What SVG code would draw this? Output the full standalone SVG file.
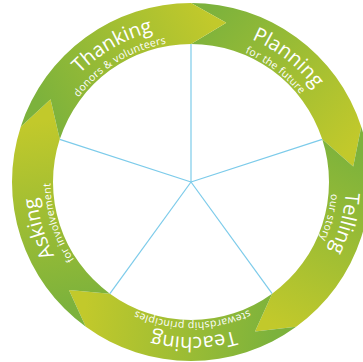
<svg xmlns="http://www.w3.org/2000/svg" width="363" height="362" viewBox="0 0 363 362">
<style>
.main{font-family:"Open Sans","Noto Sans",sans-serif;font-size:20px;fill:#fff;text-anchor:middle}
.sub{font-family:"Open Sans","Noto Sans",sans-serif;font-size:10.5px;fill:#fff;text-anchor:middle;letter-spacing:0.3px}
.spoke{stroke:#7ccbea;stroke-width:1.2;fill:none}
</style>
<defs>
<path id="pm" d="M99.89,307.40 A155,155 0 1 1 282.11,56.60 A155,155 0 1 1 99.89,307.40"/>
<path id="ps" d="M108.71,295.26 A140,140 0 1 1 273.29,68.74 A140,140 0 1 1 108.71,295.26"/>
<linearGradient id="gP" gradientUnits="userSpaceOnUse" x1="205" y1="15" x2="350" y2="150"><stop offset="0" stop-color="#7cb23c"/><stop offset="1" stop-color="#c2c92b"/></linearGradient>
<linearGradient id="gTe" gradientUnits="userSpaceOnUse" x1="355" y1="150" x2="265" y2="320"><stop offset="0" stop-color="#7cb23c"/><stop offset="1" stop-color="#c2c92b"/></linearGradient>
<linearGradient id="gTc" gradientUnits="userSpaceOnUse" x1="275" y1="325" x2="85" y2="305"><stop offset="0" stop-color="#7cb23c"/><stop offset="1" stop-color="#c2c92b"/></linearGradient>
<linearGradient id="gA" gradientUnits="userSpaceOnUse" x1="75" y1="305" x2="45" y2="120"><stop offset="0" stop-color="#7cb23c"/><stop offset="1" stop-color="#c2c92b"/></linearGradient>
<linearGradient id="gTh" gradientUnits="userSpaceOnUse" x1="45" y1="115" x2="215" y2="25"><stop offset="0" stop-color="#7cb23c"/><stop offset="1" stop-color="#c2c92b"/></linearGradient>
</defs>
<rect width="363" height="362" fill="#fff"/>
<g id="connectors">
<line class="spoke" x1="191" y1="182" x2="191" y2="44"/>
<line class="spoke" x1="191" y1="182" x2="322.25" y2="139.36"/>
<line class="spoke" x1="191" y1="182" x2="272.11" y2="293.64"/>
<line class="spoke" x1="191" y1="182" x2="109.89" y2="293.64"/>
<line class="spoke" x1="191" y1="182" x2="59.75" y2="139.36"/>
</g>
<g id="planning">
<path fill="url(#gP)" d="M191,3 A179,179 0 0 1 361.24,126.69 L353.25,166.38 L322.25,139.36 A138,138 0 0 0 191,44 L226.28,22.86 Z"/>
<text class="main"><textPath href="#pm" startOffset="50.56%">Planning</textPath></text>
<text class="sub"><textPath href="#ps" startOffset="50.3%">for the future</textPath></text>
</g>
<g id="telling">
<path fill="url(#gTe)" d="M361.24,126.69 A179,179 0 0 1 296.21,326.81 L255,331.48 L272.11,293.64 A138,138 0 0 0 322.25,139.36 L353.25,166.38 Z"/>
<text class="main"><textPath href="#pm" startOffset="69.17%">Telling</textPath></text>
<text class="sub"><textPath href="#ps" startOffset="69%">our story</textPath></text>
</g>
<g id="teaching">
<path fill="url(#gTc)" d="M296.21,326.81 A179,179 0 0 1 85.79,326.81 L68.92,290.01 L109.89,293.64 A138,138 0 0 0 272.11,293.64 L255,331.48 Z"/>
<text class="main"><textPath href="#pm" startOffset="89.72%">Teaching</textPath></text>
<text class="sub"><textPath href="#ps" startOffset="89.86%">stewardship principles</textPath></text>
</g>
<g id="asking">
<path fill="url(#gA)" d="M85.79,326.81 A179,179 0 0 1 20.76,126.69 L50.55,99.27 L59.75,139.36 A138,138 0 0 0 109.89,293.64 L68.92,290.01 Z"/>
<text class="main"><textPath href="#pm" startOffset="10.28%">Asking</textPath></text>
<text class="sub"><textPath href="#ps" startOffset="10.28%">for involvement</textPath></text>
</g>
<g id="thanking">
<path fill="url(#gTh)" d="M20.76,126.69 A179,179 0 0 1 191,3 L226.28,22.86 L191,44 A138,138 0 0 0 59.75,139.36 L50.55,99.27 Z"/>
<text class="main"><textPath href="#pm" startOffset="31.67%">Thanking</textPath></text>
<text class="sub"><textPath href="#ps" startOffset="31.25%">donors &amp; volunteers</textPath></text>
</g>
</svg>
